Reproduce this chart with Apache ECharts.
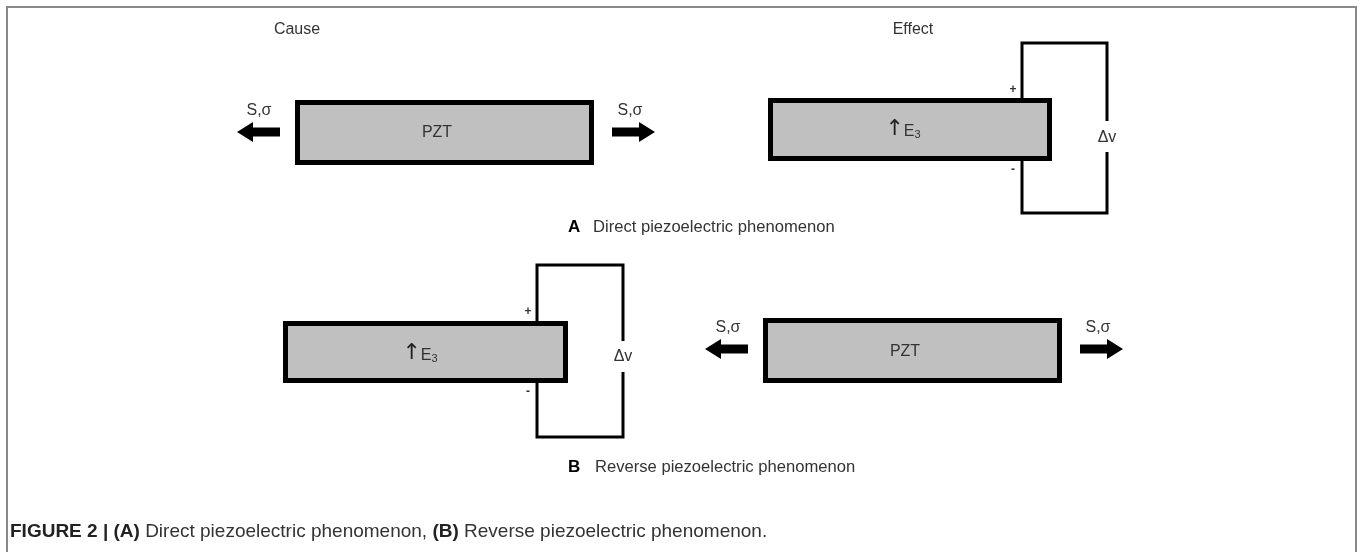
<!DOCTYPE html>
<html>
<head>
<meta charset="utf-8">
<script src="https://cdn.jsdelivr.net/npm/echarts@6/dist/echarts.min.js"></script>
<style>
  html, body { margin: 0; padding: 0; background: #fff; }
  #diagram { width: 1360px; height: 552px; }
</style>
</head>
<body>
<div id="diagram"></div>
<script>
// diagram units = page pixels, y grows downward
var blocks = [
  [295, 100, 594, 165],   // A cause: PZT
  [768, 98, 1052, 161],   // A effect: E3
  [283, 321, 568, 383],   // B cause: E3
  [763, 318, 1062, 383]   // B effect: PZT
];

var wires = [
  [[1022, 98], [1022, 43], [1107, 43], [1107, 121]],
  [[1107, 152], [1107, 213], [1022, 213], [1022, 161]],
  [[537, 321], [537, 265], [623, 265], [623, 341]],
  [[623, 372], [623, 437], [537, 437], [537, 383]]
];

var frame = [[7, 552], [7, 7], [1356, 7], [1356, 552]];

// arrows: tail x, tip x, y
var arrows = [
  [280, 237, 132],
  [612, 655, 132],
  [748, 705, 349],
  [1080, 1123, 349]
];

var labels = [
  ['Cause', 297, 30, 'plain'],
  ['Effect', 913, 30, 'plain'],
  ['S,σ', 259, 111, 'plain'],
  ['S,σ', 630, 111, 'plain'],
  ['PZT', 437, 133, 'plain'],
  ['E', 903, 129, 'field'],
  ['+', 1013, 90, 'sign'],
  ['-', 1013, 170, 'sign'],
  ['Δv', 1107, 138, 'plain'],
  ['E', 420, 353, 'field'],
  ['+', 528, 312, 'sign'],
  ['-', 528, 392, 'sign'],
  ['Δv', 623, 357, 'plain'],
  ['S,σ', 728, 328, 'plain'],
  ['S,σ', 1098, 328, 'plain'],
  ['PZT', 905, 352, 'plain'],
  ['A', 568, 227, 'panel'],
  ['B', 568, 467, 'panel']
];

var panelTexts = [
  ['Direct piezoelectric phenomenon', 593, 227],
  ['Reverse piezoelectric phenomenon', 595, 467]
];

var caption = ['FIGURE 2 | (A)', ' Direct piezoelectric phenomenon, ', '(B)', ' Reverse piezoelectric phenomenon.'];

var chart = echarts.init(document.getElementById('diagram'));

function labelStyle(item) {
  var kind = item[3];
  if (kind === 'panel') {
    return { text: item[0], font: 'bold 17px "Liberation Sans", Arial, sans-serif', fill: '#000', align: 'left', verticalAlign: 'middle' };
  }
  if (kind === 'sign') {
    return { text: item[0], font: 'bold 12px "Liberation Sans", Arial, sans-serif', fill: '#333', align: 'center', verticalAlign: 'middle' };
  }
  if (kind === 'field') {
    return {
      text: '{a|↑}{e|E}{s|3}',
      align: 'center', verticalAlign: 'middle',
      rich: {
        a: { fontSize: 22, fontFamily: 'DejaVu Sans', fill: '#222', verticalAlign: 'bottom' },
        e: { fontSize: 16, fontFamily: 'Liberation Sans', fill: '#333', verticalAlign: 'bottom' },
        s: { fontSize: 11, fontFamily: 'Liberation Sans', fill: '#333', verticalAlign: 'bottom' }
      }
    };
  }
  return { text: item[0], font: '16px "Liberation Sans", Arial, sans-serif', fill: '#333', align: 'center', verticalAlign: 'middle' };
}

var option = {
  animation: false,
  backgroundColor: '#fff',
  grid: { left: 0, right: 0, top: 0, bottom: 0 },
  xAxis: { type: 'value', min: 0, max: 1360, show: false },
  yAxis: { type: 'value', min: 0, max: 552, inverse: true, show: false },
  series: [
    {
      type: 'lines',
      coordinateSystem: 'cartesian2d',
      polyline: true,
      silent: true,
      lineStyle: { color: '#888', width: 2, opacity: 1 },
      data: [{ coords: frame }]
    },
    {
      type: 'custom',
      clip: false,
      silent: true,
      data: blocks,
      renderItem: function (params, api) {
        var p0 = api.coord([api.value(0), api.value(1)]);
        var p1 = api.coord([api.value(2), api.value(3)]);
        return {
          type: 'rect',
          shape: { x: p0[0] + 2.5, y: p0[1] + 2.5, width: p1[0] - p0[0] - 5, height: p1[1] - p0[1] - 5 },
          style: { fill: '#c0c0c0', stroke: '#000', lineWidth: 5 }
        };
      }
    },
    {
      type: 'lines',
      coordinateSystem: 'cartesian2d',
      polyline: true,
      silent: true,
      lineStyle: { color: '#000', width: 3, opacity: 1, join: 'miter' },
      data: wires.map(function (w) { return { coords: w }; })
    },
    {
      type: 'custom',
      clip: false,
      silent: true,
      data: arrows,
      renderItem: function (params, api) {
        var tail = api.coord([api.value(0), api.value(2)]);
        var tip = api.coord([api.value(1), api.value(2)]);
        var dir = tip[0] > tail[0] ? 1 : -1;
        var base = tip[0] - dir * 16;
        var y = tip[1];
        return {
          type: 'polygon',
          shape: {
            points: [
              [tail[0], y - 4.5], [base, y - 4.5], [base, y - 10],
              [tip[0], y], [base, y + 10], [base, y + 4.5], [tail[0], y + 4.5]
            ]
          },
          style: { fill: '#000' }
        };
      }
    },
    {
      type: 'custom',
      clip: false,
      silent: true,
      data: labels.map(function (l) { return [l[1], l[2]]; }),
      renderItem: function (params, api) {
        var p = api.coord([api.value(0), api.value(1)]);
        return { type: 'text', x: p[0], y: p[1], style: labelStyle(labels[params.dataIndex]) };
      }
    },
    {
      type: 'custom',
      clip: false,
      silent: true,
      data: panelTexts.map(function (t) { return [t[1], t[2]]; }),
      renderItem: function (params, api) {
        var p = api.coord([api.value(0), api.value(1)]);
        return {
          type: 'text', x: p[0], y: p[1],
          style: {
            text: panelTexts[params.dataIndex][0],
            font: '16.6px "Liberation Sans", Arial, sans-serif',
            fill: '#333', align: 'left', verticalAlign: 'middle'
          }
        };
      }
    },
    {
      type: 'custom',
      clip: false,
      silent: true,
      data: [[10, 532]],
      renderItem: function (params, api) {
        var p = api.coord([api.value(0), api.value(1)]);
        return {
          type: 'text', x: p[0], y: p[1],
          style: {
            text: '{b|' + caption[0] + '}{r|' + caption[1] + '}{b|' + caption[2] + '}{r|' + caption[3] + '}',
            align: 'left', verticalAlign: 'middle',
            rich: {
              b: { fontSize: 19, fontWeight: 'bold', fontFamily: '"Liberation Sans", sans-serif', fill: '#222' },
              r: { fontSize: 19, fontFamily: '"Liberation Sans", sans-serif', fill: '#333' }
            }
          }
        };
      }
    }
  ]
};

option && chart.setOption(option);
</script>
</body>
</html>
